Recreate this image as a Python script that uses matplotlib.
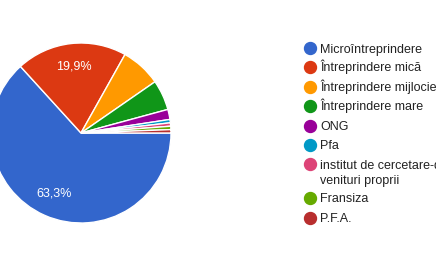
import matplotlib
matplotlib.use("Agg")
from matplotlib import pyplot as plt

plt.rcParams['font.family'] = ['Liberation Sans', 'DejaVu Sans']

# responses per category (166 total)
labels = [
    "Microîntreprindere",
    "Întreprindere mică",
    "Întreprindere mijlocie",
    "Întreprindere mare",
    "ONG",
    "Pfa",
    "institut de cercetare-dezvoltare cu",
    "Fransiza",
    "P.F.A.",
]
wrap_line = "venituri proprii"
counts = [105, 33, 12, 9, 3, 1, 1, 1, 1]
colors = ["#3366cc", "#dc3912", "#ff9900", "#109618", "#990099",
          "#0099c6", "#dd4477", "#66aa00", "#b82e2e"]

W, H = 436, 266
fig = plt.figure(figsize=(W / 100, H / 100), dpi=100)

# pie axes: center (81,133) px, radius 90 px
cx, cy, r = 81, 133, 90
ax = fig.add_axes([(cx - r) / W, (H - cy - r) / H, 2 * r / W, 2 * r / H])


def pct(p):
    if p < 10:
        return ""
    return ("%.1f%%" % p).replace(".", ",")


wedges, texts, autotexts = ax.pie(
    counts, colors=colors, startangle=0, counterclock=False,
    autopct=pct, pctdistance=0.74,
    wedgeprops=dict(edgecolor="white", linewidth=1),
    textprops=dict(color="white", fontsize=9))
ax.set_xlim(-1, 1)
ax.set_ylim(-1, 1)
ax.set_aspect("equal")
ax.axis("off")

# legend drawn by hand
rows = [48.3, 67, 86.5, 106, 125.5, 145, 164.3, 198, 217.5]
for lab, col, y in zip(labels, colors, rows):
    fy = 1 - y / H
    fig.lines.append(plt.Line2D([309.5 / W], [fy], marker="o", markersize=8.6,
                                color=col, transform=fig.transFigure))
    fig.text(320 / W, 1 - (y + 4.3) / H, lab, fontsize=9, color="#222222",
             va="baseline", ha="left")
# second line of the long label
fig.text(320 / W, 1 - (179.6 + 4.3) / H, wrap_line, fontsize=9,
         color="#222222", va="baseline", ha="left")

fig.savefig("out.png", dpi=100)
